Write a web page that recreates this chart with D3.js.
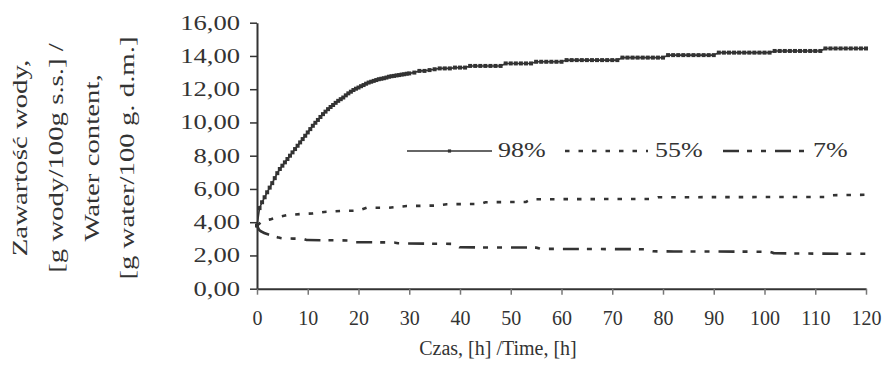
<!DOCTYPE html>
<html>
<head>
<meta charset="utf-8">
<script src="https://cdn.jsdelivr.net/npm/d3@7"></script>
<style>
  body { margin: 0; background: #fff; }
  text { font-family: "Liberation Serif", "Times New Roman", serif; fill: #333; }
</style>
</head>
<body>
<div class="chart"></div>
<script>
// data
var seriesNames = ['98%', '55%', '7%'];

// half-hour readings for the first 30 h, hourly afterwards
var hours98 = d3.range(0, 30, 0.5).concat(d3.range(30, 121, 1));
var water98 = [
  3.80, 4.85, 5.20, 5.50, 5.80, 6.08, 6.35, 6.65, 6.95, 7.20,
  7.40, 7.60, 7.80, 8.00, 8.20, 8.40, 8.60, 8.80, 9.00, 9.20,
  9.40, 9.60, 9.80, 9.98, 10.15, 10.33, 10.50, 10.65, 10.80, 10.93,
  11.05, 11.18, 11.30, 11.40, 11.50, 11.63, 11.75, 11.85, 11.95, 12.03,
  12.10, 12.18, 12.25, 12.33, 12.40, 12.45, 12.50, 12.55, 12.60, 12.63,
  12.66, 12.70, 12.75, 12.78, 12.80, 12.83, 12.85, 12.88, 12.90, 12.93,
  12.95, 13.00, 13.10, 13.10, 13.15, 13.20, 13.25, 13.25, 13.25, 13.30,
  13.30, 13.30, 13.40, 13.40, 13.40, 13.40, 13.40, 13.40, 13.40, 13.55,
  13.55, 13.55, 13.55, 13.55, 13.55, 13.65, 13.65, 13.65, 13.65, 13.65,
  13.65, 13.75, 13.75, 13.75, 13.75, 13.75, 13.75, 13.75, 13.75, 13.75,
  13.75, 13.75, 13.90, 13.90, 13.90, 13.90, 13.90, 13.90, 13.90, 13.90,
  13.90, 14.05, 14.05, 14.05, 14.05, 14.05, 14.05, 14.05, 14.05, 14.05,
  14.05, 14.20, 14.20, 14.20, 14.20, 14.20, 14.20, 14.20, 14.20, 14.20,
  14.20, 14.20, 14.30, 14.30, 14.30, 14.30, 14.30, 14.30, 14.30, 14.30,
  14.30, 14.30, 14.45, 14.45, 14.45, 14.45, 14.45, 14.45, 14.45, 14.45,
  14.45
];

var hours55 = [0, 1, 2.6, 4, 6, 8.5, 11, 13.7, 16.4, 20, 21.6, 26, 29.5, 35, 37.4, 44, 45, 53, 54, 78, 79, 112, 113, 120];
var water55 = [3.80, 4.05, 4.17, 4.30, 4.43, 4.49, 4.53, 4.63, 4.67, 4.70, 4.87, 4.87, 4.97, 5.00, 5.08, 5.10, 5.20, 5.22, 5.38, 5.40, 5.50, 5.52, 5.62, 5.65];

var hours7 = [0, 0.4, 0.9, 2.6, 4, 5, 9, 10, 18, 19, 27, 28, 39, 40, 55, 56, 77, 78, 101, 102, 120];
var water7 = [3.80, 3.55, 3.43, 3.23, 3.10, 3.03, 3.00, 2.93, 2.90, 2.80, 2.78, 2.73, 2.69, 2.49, 2.47, 2.40, 2.37, 2.25, 2.22, 2.13, 2.10];

var yTicks = d3.range(0, 17, 2);
var xTicks = d3.range(0, 121, 10);

var titleY = ['Zawartość wody,', '[g wody/100g s.s.] /', 'Water content,', '[g water/100 g. d.m.]'];
var titleX = 'Czas, [h] /Time, [h]';

var settings = {
  w: 889,
  h: 381,
  left: 257,
  right: 866,
  top: 22.7,
  bottom: 288.7,
  ink: '#333'
};

var svg = d3.select('.chart')
  .append('svg')
  .attr('width', settings.w)
  .attr('height', settings.h)
  .style('display', 'block');

var x = d3.scaleLinear().domain([0, 120]).range([settings.left, settings.right]);
var y = d3.scaleLinear().domain([0, 16]).range([settings.bottom, settings.top]);

var comma = function(d) { return d3.format('.2f')(d).replace('.', ','); };

// stretch text along its own direction, like the original export
var stretch = function(sel, k) {
  sel.each(function() {
    var len = this.getComputedTextLength();
    d3.select(this).attr('textLength', len * k).attr('lengthAdjust', 'spacingAndGlyphs');
  });
};

// y axis
var yAxis = svg.append('g')
  .attr('transform', 'translate(' + settings.left + ',0)')
  .call(d3.axisLeft(y).tickValues(yTicks).tickFormat(comma).tickSize(7).tickSizeOuter(0));
yAxis.select('.domain').attr('stroke', settings.ink).attr('stroke-width', 2);
yAxis.selectAll('.tick line').attr('stroke', settings.ink).attr('stroke-width', 1.5);
yAxis.selectAll('.tick text')
  .attr('x', -17)
  .attr('dy', '0.32em')
  .style('font-size', '20px')
  .style('font-family', '"Liberation Serif", serif')
  .attr('fill', settings.ink)
  .call(stretch, 1.33);

// x axis
var xAxis = svg.append('g')
  .attr('transform', 'translate(0,' + settings.bottom + ')')
  .call(d3.axisBottom(x).tickValues(xTicks).tickSize(6).tickSizeOuter(0));
xAxis.select('.domain').attr('stroke', settings.ink).attr('stroke-width', 2);
xAxis.selectAll('.tick line').attr('stroke', '#777').attr('stroke-width', 1.5);
xAxis.selectAll('.tick text')
  .attr('y', 30)
  .attr('dy', '0.32em')
  .style('font-size', '20px')
  .style('font-family', '"Liberation Serif", serif')
  .attr('fill', settings.ink);

// axis titles
svg.append('text')
  .attr('x', 498)
  .attr('y', 355)
  .attr('text-anchor', 'middle')
  .style('font-size', '20px')
  .text(titleX);

var titleBase = [27, 63, 99, 134];
svg.selectAll('.ytitle')
  .data(titleY)
  .enter()
  .append('text')
  .attr('class', 'ytitle')
  .attr('transform', function(d, i) { return 'translate(' + titleBase[i] + ',158) rotate(-90)'; })
  .attr('text-anchor', 'middle')
  .style('font-size', '20px')
  .text(function(d) { return d; })
  .call(stretch, 1.44);

// lines
var line = d3.line()
  .x(function(d) { return x(d[0]); })
  .y(function(d) { return y(d[1]); });

var s98 = d3.zip(hours98, water98);
var s55 = d3.zip(hours55, water55);
var s7 = d3.zip(hours7, water7);

svg.append('path')
  .datum(s98)
  .attr('d', line)
  .attr('fill', 'none')
  .attr('stroke', settings.ink)
  .attr('stroke-width', 1.6);

svg.selectAll('.m98')
  .data(s98)
  .enter()
  .append('rect')
  .attr('class', 'm98')
  .attr('x', function(d) { return x(d[0]) - 2; })
  .attr('y', function(d) { return y(d[1]) - 2; })
  .attr('width', 4)
  .attr('height', 4)
  .attr('fill', settings.ink);

var dash55 = '4.5,9';
var dash7 = '16,8,5,9,5,9';

svg.append('path')
  .datum(s55)
  .attr('d', line)
  .attr('fill', 'none')
  .attr('stroke', settings.ink)
  .attr('stroke-width', 2.6)
  .attr('stroke-dasharray', dash55);

svg.append('path')
  .datum(s7)
  .attr('d', line.curve(d3.curveMonotoneX))
  .attr('fill', 'none')
  .attr('stroke', settings.ink)
  .attr('stroke-width', 2.6)
  .attr('stroke-dasharray', dash7);

// legend
var legendY = 151;
var legend = [
  {name: seriesNames[0], x0: 407, x1: 492, tx: 498, dash: null, sw: 1.3, marker: true},
  {name: seriesNames[1], x0: 565, x1: 648, tx: 655, dash: dash55, sw: 2.6, marker: false},
  {name: seriesNames[2], x0: 723, x1: 805, tx: 813, dash: dash7, sw: 2.6, marker: false}
];

var items = svg.selectAll('.legend')
  .data(legend)
  .enter()
  .append('g')
  .attr('class', 'legend');

items.append('line')
  .attr('x1', function(d) { return d.x0; })
  .attr('x2', function(d) { return d.x1; })
  .attr('y1', legendY)
  .attr('y2', legendY)
  .attr('stroke', settings.ink)
  .attr('stroke-width', function(d) { return d.sw; })
  .attr('stroke-dasharray', function(d) { return d.dash; });

items.filter(function(d) { return d.marker; })
  .append('rect')
  .attr('x', function(d) { return (d.x0 + d.x1) / 2 - 1.6; })
  .attr('y', legendY - 1.6)
  .attr('width', 3.2)
  .attr('height', 3.2)
  .attr('fill', settings.ink);

items.append('text')
  .attr('x', function(d) { return d.tx; })
  .attr('y', legendY + 6)
  .style('font-size', '20px')
  .text(function(d) { return d.name; })
  .call(stretch, 1.3);
</script>
</body>
</html>
